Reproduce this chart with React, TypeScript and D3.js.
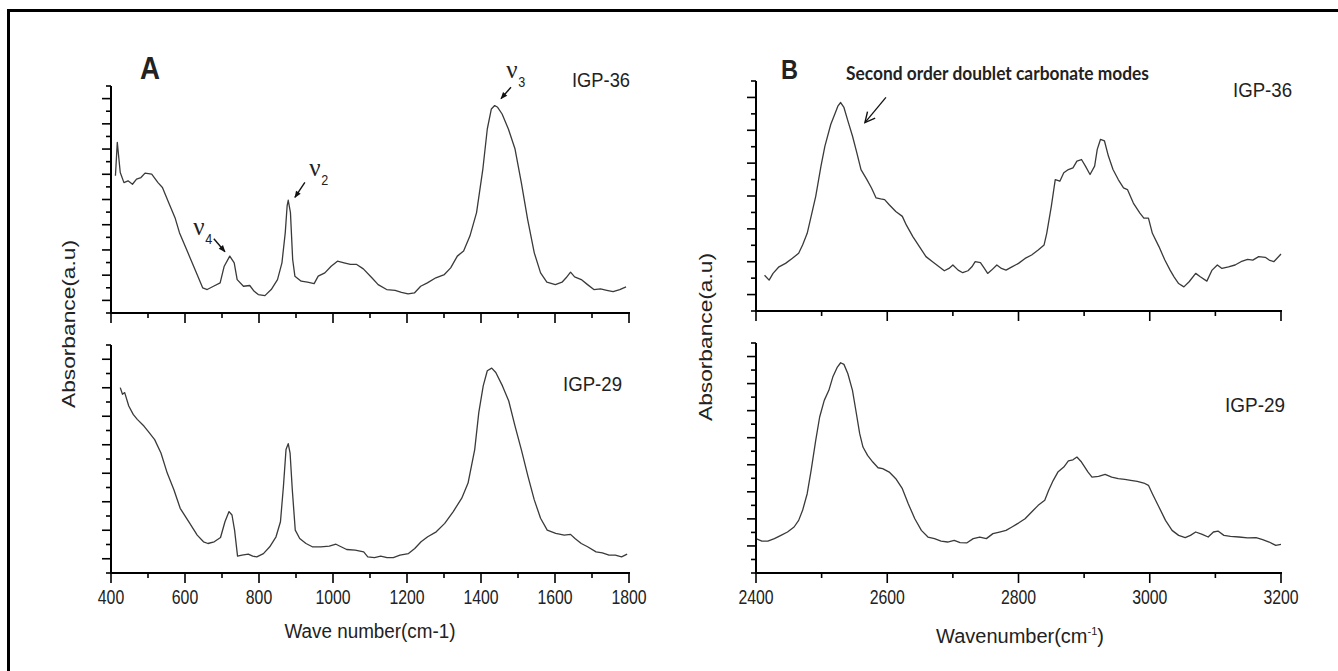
import React from 'react';
import * as d3 from 'd3';

const W = 1338;
const H = 671;
const FONT = '"Liberation Sans", Arial, sans-serif';

// Panel A, IGP-36 : wavenumber (cm-1) / absorbance (a.u)
const aTopWn = [412, 417, 425, 435, 446, 458, 469, 481, 492, 510, 527, 539, 556, 573, 585, 608, 631, 648, 660, 677, 695, 706, 721, 733, 741, 758, 775, 787, 798, 816, 833, 850, 862, 871, 876, 879, 885, 891, 897, 914, 931, 949, 960, 978, 995, 1012, 1030, 1047, 1064, 1082, 1105, 1122, 1145, 1168, 1185, 1203, 1220, 1237, 1255, 1278, 1301, 1318, 1336, 1353, 1370, 1388, 1405, 1417, 1428, 1437, 1445, 1457, 1474, 1492, 1509, 1526, 1544, 1561, 1578, 1601, 1619, 1630, 1642, 1653, 1671, 1688, 1705, 1723, 1740, 1757, 1775, 1792];
const aTopAbs = [9.88, 12.53, 10.14, 9.34, 9.48, 9.21, 9.61, 9.74, 10.09, 10.01, 9.34, 8.95, 7.75, 6.56, 5.37, 3.77, 2.18, 0.99, 0.86, 1.12, 1.39, 2.71, 3.51, 2.98, 1.65, 1.12, 1.18, 0.72, 0.46, 0.38, 0.86, 1.65, 2.98, 5.37, 7.49, 7.94, 6.96, 3.24, 1.92, 1.52, 1.44, 1.33, 1.92, 2.18, 2.71, 3.11, 2.98, 2.85, 2.85, 2.5, 1.79, 1.25, 0.86, 0.8, 0.64, 0.51, 0.59, 1.12, 1.39, 1.79, 2.05, 2.58, 3.51, 3.91, 5.1, 6.96, 10.41, 13.59, 15.18, 15.45, 15.31, 14.78, 13.59, 12.0, 9.34, 6.43, 3.77, 2.18, 1.44, 1.25, 1.44, 1.79, 2.24, 1.86, 1.65, 1.25, 0.86, 0.91, 0.8, 0.7, 0.86, 1.07];

// Panel A, IGP-29
const aBotWn = [425, 431, 437, 448, 460, 471, 489, 500, 518, 535, 552, 570, 587, 610, 633, 650, 662, 679, 696, 708, 719, 727, 734, 742, 754, 771, 783, 794, 812, 829, 846, 858, 866, 873, 879, 884, 890, 898, 910, 927, 944, 967, 990, 1008, 1019, 1037, 1060, 1083, 1094, 1112, 1129, 1146, 1163, 1181, 1204, 1221, 1238, 1256, 1279, 1302, 1325, 1348, 1365, 1383, 1394, 1406, 1417, 1429, 1440, 1458, 1475, 1492, 1509, 1527, 1544, 1561, 1579, 1602, 1625, 1642, 1654, 1671, 1688, 1711, 1728, 1746, 1763, 1780, 1795];
const aBotAbs = [12.01, 11.54, 11.66, 10.72, 10.13, 9.78, 9.31, 8.95, 8.36, 7.42, 6.01, 4.84, 3.54, 2.6, 1.66, 1.19, 1.07, 1.19, 1.49, 2.6, 3.31, 3.07, 2.01, 0.18, 0.25, 0.32, 0.18, 0.13, 0.36, 0.84, 1.54, 2.6, 5.07, 7.66, 8.08, 7.42, 4.84, 2.01, 1.42, 1.07, 0.84, 0.84, 0.88, 1.02, 0.88, 0.65, 0.6, 0.48, 0.13, 0.08, 0.18, 0.08, 0.08, 0.25, 0.36, 0.72, 1.19, 1.54, 1.89, 2.48, 3.31, 4.25, 5.31, 7.66, 10.25, 12.13, 13.19, 13.38, 13.07, 12.13, 11.07, 9.31, 7.66, 5.78, 4.13, 2.84, 2.01, 1.78, 1.66, 1.71, 1.42, 1.07, 0.84, 0.48, 0.41, 0.25, 0.25, 0.13, 0.32];

// Panel B, IGP-36
const bTopWn = [2413, 2420, 2426, 2435, 2445, 2455, 2465, 2471, 2478, 2484, 2491, 2499, 2505, 2514, 2520, 2525, 2529, 2534, 2540, 2547, 2553, 2560, 2569, 2576, 2583, 2590, 2596, 2603, 2613, 2623, 2629, 2639, 2649, 2659, 2669, 2679, 2687, 2694, 2700, 2708, 2715, 2723, 2729, 2734, 2742, 2748, 2753, 2759, 2767, 2774, 2781, 2790, 2800, 2810, 2820, 2830, 2839, 2843, 2850, 2856, 2863, 2869, 2876, 2883, 2889, 2896, 2902, 2909, 2916, 2920, 2925, 2931, 2937, 2944, 2952, 2960, 2966, 2975, 2985, 2991, 2998, 3004, 3014, 3023, 3031, 3037, 3044, 3052, 3060, 3070, 3077, 3087, 3095, 3103, 3110, 3120, 3130, 3139, 3149, 3157, 3166, 3176, 3182, 3189, 3200];
const bTopAbs = [1.18, 0.88, 1.29, 1.69, 1.9, 2.2, 2.51, 3.02, 3.73, 4.76, 5.98, 7.82, 9.04, 10.37, 10.98, 11.49, 11.69, 11.39, 10.57, 9.65, 8.73, 7.61, 7.0, 6.49, 5.88, 5.82, 5.78, 5.47, 5.06, 4.76, 4.24, 3.53, 2.92, 2.31, 2.0, 1.69, 1.45, 1.59, 1.8, 1.49, 1.33, 1.45, 1.69, 2.0, 1.94, 1.59, 1.29, 1.49, 1.8, 1.59, 1.49, 1.69, 1.9, 2.2, 2.41, 2.71, 3.02, 3.73, 5.37, 7.0, 6.9, 7.41, 7.61, 7.71, 8.12, 8.22, 7.82, 7.31, 7.82, 8.84, 9.45, 9.35, 8.43, 7.61, 7.0, 6.49, 6.39, 5.57, 4.96, 4.65, 4.65, 3.73, 2.92, 2.1, 1.49, 1.08, 0.67, 0.47, 0.78, 1.29, 1.08, 0.82, 1.49, 1.8, 1.59, 1.69, 1.8, 2.0, 2.14, 2.1, 2.31, 2.27, 2.1, 2.0, 2.47];

// Panel B, IGP-29
const bBotWn = [2400, 2409, 2418, 2428, 2438, 2448, 2458, 2465, 2471, 2478, 2484, 2491, 2497, 2504, 2511, 2517, 2524, 2529, 2534, 2540, 2547, 2553, 2558, 2563, 2570, 2578, 2586, 2593, 2603, 2613, 2623, 2632, 2642, 2652, 2662, 2672, 2682, 2692, 2702, 2711, 2721, 2731, 2741, 2751, 2761, 2771, 2781, 2790, 2800, 2810, 2820, 2830, 2840, 2846, 2853, 2860, 2869, 2876, 2883, 2889, 2896, 2906, 2912, 2922, 2932, 2942, 2952, 2962, 2971, 2981, 2991, 2998, 3004, 3014, 3024, 3034, 3044, 3054, 3062, 3070, 3080, 3089, 3097, 3104, 3113, 3123, 3136, 3149, 3162, 3172, 3182, 3192, 3200];
const bBotAbs = [2.54, 2.36, 2.36, 2.54, 2.78, 3.03, 3.4, 3.89, 4.63, 5.86, 7.59, 9.8, 11.53, 12.76, 13.5, 14.48, 15.22, 15.54, 15.42, 14.73, 13.5, 11.77, 10.3, 9.31, 8.69, 8.2, 7.78, 7.71, 7.46, 6.97, 6.23, 5.12, 4.01, 3.15, 2.66, 2.54, 2.36, 2.29, 2.41, 2.24, 2.22, 2.54, 2.66, 2.54, 2.91, 3.03, 3.15, 3.4, 3.69, 4.01, 4.51, 5.0, 5.37, 6.11, 6.85, 7.46, 7.83, 8.28, 8.37, 8.57, 8.2, 7.46, 7.09, 7.14, 7.29, 7.09, 6.97, 6.92, 6.85, 6.77, 6.65, 6.48, 5.86, 4.88, 3.89, 3.15, 2.78, 2.61, 2.78, 3.03, 2.86, 2.66, 3.03, 3.1, 2.78, 2.71, 2.66, 2.59, 2.61, 2.46, 2.29, 2.04, 2.12];

const aMajor = [400, 600, 800, 1000, 1200, 1400, 1600, 1800];
const aMinor = [500, 700, 900, 1100, 1300, 1500, 1700];
const bMajor = [2400, 2600, 2800, 3000, 3200];
const bMinor = [2500, 2700, 2900, 3100];

const ink = '#222';

interface TxtProps {
  x: number;
  y: number;
  len?: number;
  size: number;
  anchor?: string;
  weight?: string | number;
  family?: string;
  transform?: string;
  children: React.ReactNode;
}

const Txt = ({ x, y, len, size, anchor = 'start', weight = 'normal', family = FONT, transform, children }: TxtProps) => (
  <text
    x={x}
    y={y}
    fontSize={size}
    fontFamily={family}
    fontWeight={weight}
    textAnchor={anchor}
    fill={ink}
    transform={transform}
    textLength={len}
    lengthAdjust={len ? 'spacingAndGlyphs' : undefined}
  >
    {children}
  </text>
);

interface PanelProps {
  x0: number;
  x1: number;
  yTop: number;
  yBottom: number;
  xDomain: [number, number];
  yDomain: [number, number];
  yMajor: number[];
  xMajor: number[];
  xMinor: number[];
  wn: number[];
  abs: number[];
  labels: boolean;
  children?: (x: d3.ScaleLinear<number, number>, y: d3.ScaleLinear<number, number>) => React.ReactNode;
}

const Panel = ({ x0, x1, yTop, yBottom, xDomain, yDomain, yMajor, xMajor, xMinor, wn, abs, labels, children }: PanelProps) => {
  const x = d3.scaleLinear().domain(xDomain).range([x0, x1]);
  const y = d3.scaleLinear().domain(yDomain).range([yBottom, yTop]);
  const line = d3.line<number>().x((_, i) => x(wn[i])).y(d => y(d));
  const yTicks = d3.range(yDomain[0], yDomain[1] + 0.5, 1);

  return (
    <g>
      <path d={line(abs) ?? ''} fill="none" stroke="#3a3a3a" strokeWidth={1.3} strokeLinejoin="round" />
      {/* y axis */}
      <line x1={x0} x2={x0} y1={yTop} y2={yBottom} stroke="#000" strokeWidth={2} />
      {yTicks.map(v => (
        <line key={v} x1={x0 - (yMajor.includes(v) ? 9 : 5)} x2={x0} y1={y(v)} y2={y(v)} stroke="#000" strokeWidth={1.6} />
      ))}
      {/* x axis */}
      <line x1={x0 - 1} x2={x1 + 1} y1={yBottom} y2={yBottom} stroke="#000" strokeWidth={2} />
      {xMajor.map(v => (
        <line key={'M' + v} x1={x(v)} x2={x(v)} y1={yBottom} y2={yBottom + 10} stroke="#000" strokeWidth={1.6} />
      ))}
      {xMinor.map(v => (
        <line key={'m' + v} x1={x(v)} x2={x(v)} y1={yBottom} y2={yBottom + 5} stroke="#000" strokeWidth={1.6} />
      ))}
      {labels && xMajor.map(v => (
        <Txt key={'t' + v} x={x(v)} y={yBottom + 31} size={20} anchor="middle" len={String(v).length * 8.8}>
          {v}
        </Txt>
      ))}
      {children && children(x, y)}
    </g>
  );
};

const Nu = ({ x, y, sub }: { x: number; y: number; sub: string }) => (
  <g>
    <text x={x} y={y} fontSize={25} fontFamily='"Liberation Serif", "Times New Roman", serif' fill={ink}>ν</text>
    <Txt x={x + 12} y={y + 9} size={15} len={7}>{sub}</Txt>
  </g>
);

export default function App() {
  return (
    <svg width={W} height={H} style={{ position: 'absolute', left: 0, top: 0, background: '#fff' }}>
      <defs>
        <marker id="solid" viewBox="0 0 10 10" refX="9" refY="5" markerWidth="8" markerHeight="7" orient="auto" markerUnits="userSpaceOnUse">
          <path d="M0,1 L10,5 L0,9 z" fill="#111" />
        </marker>
        <marker id="open" viewBox="0 0 12 12" refX="11" refY="6" markerWidth="12" markerHeight="12" orient="auto" markerUnits="userSpaceOnUse">
          <path d="M1,1 L11,6 L1,11" fill="none" stroke="#111" strokeWidth={1.4} />
        </marker>
      </defs>
      <rect x={8.5} y={10.5} width={1345} height={680} fill="none" stroke="#000" strokeWidth={3} />

      {/* Panel A */}
      <Panel x0={111} x1={629} yTop={86} yBottom={313} xDomain={[400, 1800]} yDomain={[-1, 17]}
        yMajor={d3.range(0, 17, 2)} xMajor={aMajor} xMinor={aMinor} wn={aTopWn} abs={aTopAbs} labels={false}>
        {(x, y) => (
          <g>
            <Nu x={x(622)} y={y(5.21)} sub="4" />
            <line x1={x(678)} y1={y(4.89)} x2={x(708)} y2={y(3.86)} stroke="#111" strokeWidth={1.4} markerEnd="url(#solid)" />
            <Nu x={x(936)} y={y(9.83)} sub="2" />
            <line x1={x(924)} y1={y(9.35)} x2={x(897)} y2={y(8.16)} stroke="#111" strokeWidth={1.4} markerEnd="url(#solid)" />
            <Nu x={x(1468)} y={y(17.6)} sub="3" />
            <line x1={x(1481)} y1={y(16.9)} x2={x(1454)} y2={y(16.0)} stroke="#111" strokeWidth={1.4} markerEnd="url(#solid)" />
          </g>
        )}
      </Panel>
      <Panel x0={111} x1={629} yTop={345} yBottom={573} xDomain={[400, 1800]} yDomain={[-1, 15]}
        yMajor={d3.range(0, 15, 2)} xMajor={aMajor} xMinor={aMinor} wn={aBotWn} abs={aBotAbs} labels={true} />

      <Txt x={140} y={79} size={31} weight="bold" len={20}>A</Txt>
      <Txt x={572} y={87} size={20} len={58}>IGP-36</Txt>
      <Txt x={563} y={391} size={20} len={59}>IGP-29</Txt>
      <Txt x={370} y={638} size={20} anchor="middle" len={171}>Wave number(cm-1)</Txt>
      <Txt x={0} y={0} size={18} anchor="middle" len={168} transform="translate(75,324) rotate(-90)">Absorbance(a.u)</Txt>

      {/* Panel B */}
      <Panel x0={756} x1={1281} yTop={81} yBottom={311} xDomain={[2400, 3200]} yDomain={[-1, 13]}
        yMajor={d3.range(0, 13, 2)} xMajor={bMajor} xMinor={bMinor} wn={bTopWn} abs={bTopAbs} labels={false}>
        {(x, y) => (
          <line x1={x(2598)} y1={y(12.0)} x2={x(2566)} y2={y(10.47)} stroke="#111" strokeWidth={1.3} markerEnd="url(#open)" />
        )}
      </Panel>
      <Panel x0={756} x1={1281} yTop={343} yBottom={573} xDomain={[2400, 3200]} yDomain={[0, 17]}
        yMajor={d3.range(2, 17, 2)} xMajor={bMajor} xMinor={bMinor} wn={bBotWn} abs={bBotAbs} labels={true} />

      <Txt x={781} y={79} size={27} weight="bold" len={17}>B</Txt>
      <Txt x={846} y={80} size={19} weight="bold" len={303} family='Lato, "Liberation Sans", sans-serif'>Second order doublet carbonate modes</Txt>
      <Txt x={1233} y={97} size={20} len={59}>IGP-36</Txt>
      <Txt x={1225} y={412} size={20} len={60}>IGP-29</Txt>
      <text x={1020} y={643} fontSize={20} fontFamily={FONT} textAnchor="middle" fill={ink}>
        Wavenumber(cm<tspan fontSize={11} dy={-8}>-1</tspan><tspan dy={8}>)</tspan>
      </text>
      <Txt x={0} y={0} size={18} anchor="middle" len={168} transform="translate(712,337) rotate(-90)">Absorbance(a.u)</Txt>
    </svg>
  );
}
